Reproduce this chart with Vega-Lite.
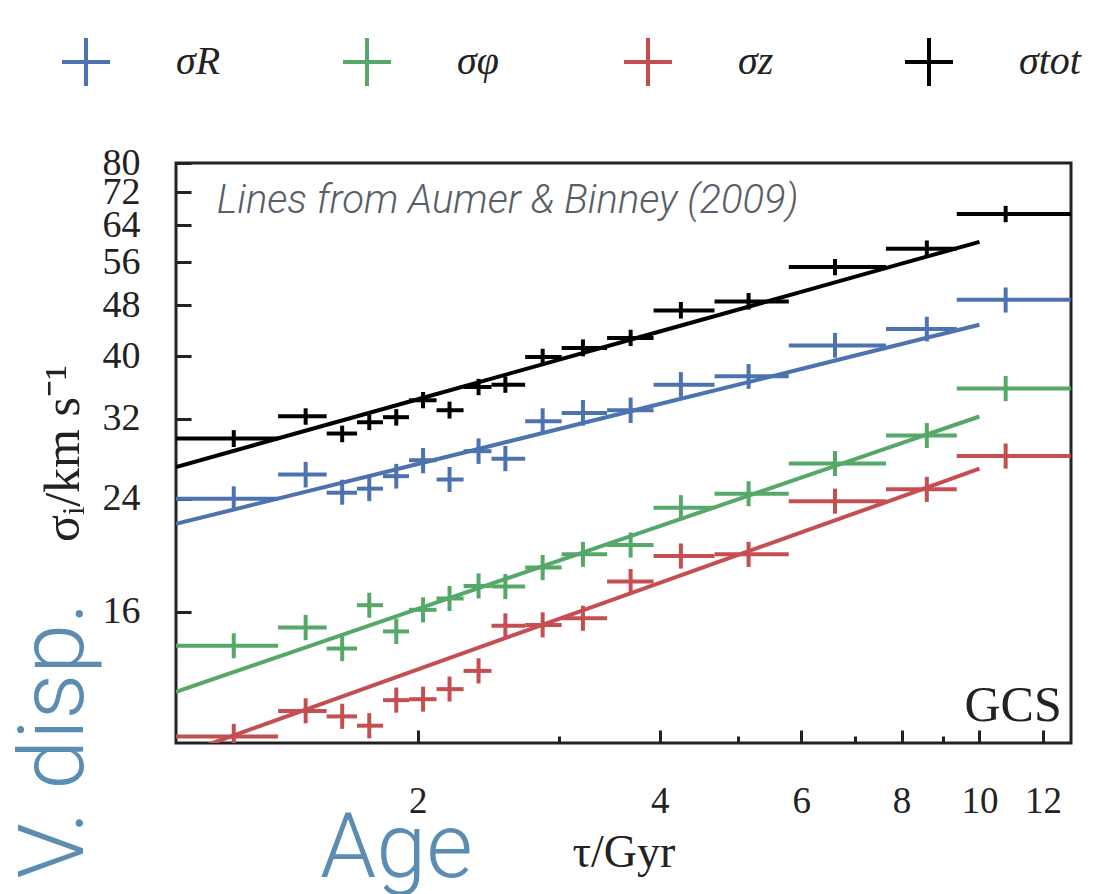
{
  "$schema": "https://vega.github.io/schema/vega-lite/v6.json",
  "width": 895,
  "height": 580,
  "autosize": {"type": "none"},
  "padding": {"left": 176, "top": 163, "right": 36, "bottom": 151},
  "background": "white",
  "config": {
    "view": {"stroke": "#222222", "strokeWidth": 3},
    "font": "Liberation Serif"
  },
  "datasets": {
    "fits": [
      {"s": "σR", "tau": 1, "v": 21.94}, {"s": "σR", "tau": 2, "v": 27.19}, {"s": "σR", "tau": 4, "v": 33.71}, {"s": "σR", "tau": 6, "v": 38.22}, {"s": "σR", "tau": 8, "v": 41.8}, {"s": "σR", "tau": 10, "v": 44.8},
      {"s": "σφ", "tau": 1, "v": 12.01}, {"s": "σφ", "tau": 2, "v": 16.17}, {"s": "σφ", "tau": 4, "v": 21.76}, {"s": "σφ", "tau": 6, "v": 25.89}, {"s": "σφ", "tau": 8, "v": 29.3}, {"s": "σφ", "tau": 10, "v": 32.24},
      {"s": "σz", "tau": 1, "v": 9.54}, {"s": "σz", "tau": 2, "v": 13.02}, {"s": "σz", "tau": 4, "v": 17.75}, {"s": "σz", "tau": 6, "v": 21.28}, {"s": "σz", "tau": 8, "v": 24.19}, {"s": "σz", "tau": 10, "v": 26.75},
      {"s": "σtot", "tau": 1, "v": 26.9}, {"s": "σtot", "tau": 2, "v": 34.29}, {"s": "σtot", "tau": 4, "v": 43.72}, {"s": "σtot", "tau": 6, "v": 50.4}, {"s": "σtot", "tau": 8, "v": 55.76}, {"s": "σtot", "tau": 10, "v": 60.3}
    ],
    "pts": [
      {"s": "σR", "lo": 1.0, "tau": 1.18, "hi": 1.34, "v": 24.01, "vlo": 23.0, "vhi": 25.1},
      {"s": "σR", "lo": 1.34, "tau": 1.45, "hi": 1.54, "v": 26.19, "vlo": 25.0, "vhi": 27.4},
      {"s": "σR", "lo": 1.54, "tau": 1.61, "hi": 1.68, "v": 24.53, "vlo": 23.5, "vhi": 25.7},
      {"s": "σR", "lo": 1.68, "tau": 1.74, "hi": 1.81, "v": 24.89, "vlo": 23.8, "vhi": 26.0},
      {"s": "σR", "lo": 1.81, "tau": 1.88, "hi": 1.95, "v": 26.03, "vlo": 24.9, "vhi": 27.2},
      {"s": "σR", "lo": 1.95, "tau": 2.03, "hi": 2.11, "v": 27.56, "vlo": 26.3, "vhi": 28.8},
      {"s": "σR", "lo": 2.11, "tau": 2.19, "hi": 2.28, "v": 25.72, "vlo": 24.6, "vhi": 26.9},
      {"s": "σR", "lo": 2.28, "tau": 2.38, "hi": 2.47, "v": 28.47, "vlo": 27.2, "vhi": 29.8},
      {"s": "σR", "lo": 2.47, "tau": 2.57, "hi": 2.72, "v": 27.7, "vlo": 26.5, "vhi": 29.0},
      {"s": "σR", "lo": 2.72, "tau": 2.86, "hi": 3.02, "v": 31.7, "vlo": 30.3, "vhi": 33.2},
      {"s": "σR", "lo": 3.02, "tau": 3.21, "hi": 3.44, "v": 32.66, "vlo": 31.2, "vhi": 34.2},
      {"s": "σR", "lo": 3.44, "tau": 3.68, "hi": 3.93, "v": 32.97, "vlo": 31.5, "vhi": 34.5},
      {"s": "σR", "lo": 3.93, "tau": 4.25, "hi": 4.68, "v": 36.14, "vlo": 34.6, "vhi": 37.8},
      {"s": "σR", "lo": 4.68, "tau": 5.16, "hi": 5.79, "v": 37.23, "vlo": 35.6, "vhi": 38.9},
      {"s": "σR", "lo": 5.79, "tau": 6.61, "hi": 7.65, "v": 41.6, "vlo": 39.8, "vhi": 43.5},
      {"s": "σR", "lo": 7.65, "tau": 8.6, "hi": 9.37, "v": 44.12, "vlo": 42.2, "vhi": 46.1},
      {"s": "σR", "lo": 9.37, "tau": 10.78, "hi": 13.0, "v": 48.98, "vlo": 46.8, "vhi": 51.2},
      {"s": "σφ", "lo": 1.0, "tau": 1.18, "hi": 1.34, "v": 14.17, "vlo": 13.55, "vhi": 14.82},
      {"s": "σφ", "lo": 1.34, "tau": 1.45, "hi": 1.54, "v": 15.13, "vlo": 14.46, "vhi": 15.83},
      {"s": "σφ", "lo": 1.54, "tau": 1.61, "hi": 1.68, "v": 14.03, "vlo": 13.41, "vhi": 14.68},
      {"s": "σφ", "lo": 1.68, "tau": 1.74, "hi": 1.81, "v": 16.39, "vlo": 15.67, "vhi": 17.14},
      {"s": "σφ", "lo": 1.81, "tau": 1.88, "hi": 1.95, "v": 14.92, "vlo": 14.26, "vhi": 15.61},
      {"s": "σφ", "lo": 1.95, "tau": 2.03, "hi": 2.11, "v": 16.12, "vlo": 15.41, "vhi": 16.86},
      {"s": "σφ", "lo": 2.11, "tau": 2.19, "hi": 2.28, "v": 16.79, "vlo": 16.05, "vhi": 17.56},
      {"s": "σφ", "lo": 2.28, "tau": 2.38, "hi": 2.47, "v": 17.56, "vlo": 16.79, "vhi": 18.37},
      {"s": "σφ", "lo": 2.47, "tau": 2.57, "hi": 2.72, "v": 17.52, "vlo": 16.75, "vhi": 18.33},
      {"s": "σφ", "lo": 2.72, "tau": 2.86, "hi": 3.02, "v": 18.76, "vlo": 17.93, "vhi": 19.62},
      {"s": "σφ", "lo": 3.02, "tau": 3.21, "hi": 3.44, "v": 19.67, "vlo": 18.8, "vhi": 20.57},
      {"s": "σφ", "lo": 3.44, "tau": 3.68, "hi": 3.93, "v": 20.33, "vlo": 19.44, "vhi": 21.27},
      {"s": "σφ", "lo": 3.93, "tau": 4.25, "hi": 4.68, "v": 23.25, "vlo": 22.23, "vhi": 24.32},
      {"s": "σφ", "lo": 4.68, "tau": 5.16, "hi": 5.79, "v": 24.44, "vlo": 23.37, "vhi": 25.56},
      {"s": "σφ", "lo": 5.79, "tau": 6.61, "hi": 7.65, "v": 27.24, "vlo": 26.04, "vhi": 28.49},
      {"s": "σφ", "lo": 7.65, "tau": 8.6, "hi": 9.37, "v": 30.11, "vlo": 28.79, "vhi": 31.49},
      {"s": "σφ", "lo": 9.37, "tau": 10.78, "hi": 13.0, "v": 35.63, "vlo": 34.06, "vhi": 37.27},
      {"s": "σz", "lo": 1.0, "tau": 1.18, "hi": 1.34, "v": 10.24, "vlo": 9.79, "vhi": 10.71},
      {"s": "σz", "lo": 1.34, "tau": 1.45, "hi": 1.54, "v": 11.22, "vlo": 10.73, "vhi": 11.74},
      {"s": "σz", "lo": 1.54, "tau": 1.61, "hi": 1.68, "v": 11.0, "vlo": 10.52, "vhi": 11.51},
      {"s": "σz", "lo": 1.68, "tau": 1.74, "hi": 1.81, "v": 10.64, "vlo": 10.17, "vhi": 11.13},
      {"s": "σz", "lo": 1.81, "tau": 1.88, "hi": 1.95, "v": 11.66, "vlo": 11.15, "vhi": 12.2},
      {"s": "σz", "lo": 1.95, "tau": 2.03, "hi": 2.11, "v": 11.7, "vlo": 11.19, "vhi": 12.24},
      {"s": "σz", "lo": 2.11, "tau": 2.19, "hi": 2.28, "v": 12.13, "vlo": 11.6, "vhi": 12.69},
      {"s": "σz", "lo": 2.28, "tau": 2.38, "hi": 2.47, "v": 12.95, "vlo": 12.38, "vhi": 13.55},
      {"s": "σz", "lo": 2.47, "tau": 2.57, "hi": 2.72, "v": 15.22, "vlo": 14.55, "vhi": 15.92},
      {"s": "σz", "lo": 2.72, "tau": 2.86, "hi": 3.02, "v": 15.27, "vlo": 14.6, "vhi": 15.97},
      {"s": "σz", "lo": 3.02, "tau": 3.21, "hi": 3.44, "v": 15.64, "vlo": 14.95, "vhi": 16.36},
      {"s": "σz", "lo": 3.44, "tau": 3.68, "hi": 3.93, "v": 17.84, "vlo": 17.06, "vhi": 18.66},
      {"s": "σz", "lo": 3.93, "tau": 4.25, "hi": 4.68, "v": 19.55, "vlo": 18.69, "vhi": 20.45},
      {"s": "σz", "lo": 4.68, "tau": 5.16, "hi": 5.79, "v": 19.67, "vlo": 18.8, "vhi": 20.57},
      {"s": "σz", "lo": 5.79, "tau": 6.61, "hi": 7.65, "v": 23.8, "vlo": 22.75, "vhi": 24.89},
      {"s": "σz", "lo": 7.65, "tau": 8.6, "hi": 9.37, "v": 24.83, "vlo": 23.74, "vhi": 25.97},
      {"s": "σz", "lo": 9.37, "tau": 10.78, "hi": 13.0, "v": 27.97, "vlo": 26.74, "vhi": 29.26},
      {"s": "σtot", "lo": 1.0, "tau": 1.18, "hi": 1.34, "v": 29.8, "vlo": 28.9, "vhi": 30.7},
      {"s": "σtot", "lo": 1.34, "tau": 1.45, "hi": 1.54, "v": 32.27, "vlo": 31.3, "vhi": 33.2},
      {"s": "σtot", "lo": 1.54, "tau": 1.61, "hi": 1.68, "v": 30.33, "vlo": 29.4, "vhi": 31.2},
      {"s": "σtot", "lo": 1.68, "tau": 1.74, "hi": 1.81, "v": 31.58, "vlo": 30.7, "vhi": 32.5},
      {"s": "σtot", "lo": 1.81, "tau": 1.88, "hi": 1.95, "v": 32.16, "vlo": 31.2, "vhi": 33.1},
      {"s": "σtot", "lo": 1.95, "tau": 2.03, "hi": 2.11, "v": 34.17, "vlo": 33.2, "vhi": 35.2},
      {"s": "σtot", "lo": 2.11, "tau": 2.19, "hi": 2.28, "v": 32.97, "vlo": 32.0, "vhi": 34.0},
      {"s": "σtot", "lo": 2.28, "tau": 2.38, "hi": 2.47, "v": 35.84, "vlo": 34.8, "vhi": 36.9},
      {"s": "σtot", "lo": 2.47, "tau": 2.57, "hi": 2.72, "v": 36.14, "vlo": 35.1, "vhi": 37.2},
      {"s": "σtot", "lo": 2.72, "tau": 2.86, "hi": 3.02, "v": 39.91, "vlo": 38.7, "vhi": 41.1},
      {"s": "σtot", "lo": 3.02, "tau": 3.21, "hi": 3.44, "v": 41.22, "vlo": 40.0, "vhi": 42.5},
      {"s": "σtot", "lo": 3.44, "tau": 3.68, "hi": 3.93, "v": 42.72, "vlo": 41.5, "vhi": 44.0},
      {"s": "σtot", "lo": 3.93, "tau": 4.25, "hi": 4.68, "v": 47.16, "vlo": 45.8, "vhi": 48.6},
      {"s": "σtot", "lo": 4.68, "tau": 5.16, "hi": 5.79, "v": 48.71, "vlo": 47.3, "vhi": 50.2},
      {"s": "σtot", "lo": 5.79, "tau": 6.61, "hi": 7.65, "v": 55.08, "vlo": 53.5, "vhi": 56.7},
      {"s": "σtot", "lo": 7.65, "tau": 8.6, "hi": 9.37, "v": 58.81, "vlo": 57.1, "vhi": 60.6},
      {"s": "σtot", "lo": 9.37, "tau": 10.78, "hi": 13.0, "v": 66.65, "vlo": 64.7, "vhi": 68.6}
    ]
  },
  "layer": [
    {
      "data": {"name": "fits"},
      "mark": {"type": "line", "strokeWidth": 4, "clip": true},
      "encoding": {
        "x": {
          "field": "tau", "type": "quantitative",
          "scale": {"type": "log", "domain": [1, 13], "nice": false, "zero": false},
          "axis": {
            "values": [2, 3, 4, 5, 6, 7, 8, 9, 10, 12],
            "labelExpr": "indexof([2,4,6,8,10,12], datum.value) >= 0 ? '' + datum.value : ''",
            "tickSize": {"condition": {"test": "indexof([3,5,7,9], datum.value) >= 0", "value": -7}, "value": -13},
            "tickWidth": 3, "tickColor": "#222222",
            "domain": false, "grid": false,
            "labelFont": "Liberation Serif", "labelFontSize": 37, "labelColor": "#222222",
            "labelPadding": 53,
            "title": "τ/Gyr", "titleFont": "Liberation Serif", "titleFontSize": 46,
            "titleFontWeight": "normal", "titleColor": "#222222", "titlePadding": 11
          }
        },
        "y": {
          "field": "v", "type": "quantitative",
          "scale": {"type": "log", "domain": [10, 80], "nice": false, "zero": false},
          "axis": {
            "values": [16, 24, 32, 40, 48, 56, 64, 72, 80],
            "format": "d",
            "tickSize": -15, "tickWidth": 3, "tickColor": "#222222",
            "domain": false, "grid": false,
            "labelFont": "Liberation Serif", "labelFontSize": 38, "labelColor": "#222222",
            "labelPadding": 51, "labelOverlap": false,
            "title": "σᵢ/km s⁻¹", "titleFont": "Liberation Serif", "titleFontSize": 50,
            "titleFontWeight": "normal", "titleColor": "#222222", "titlePadding": 14
          }
        },
        "color": {
          "field": "s", "type": "nominal",
          "scale": {"domain": ["σR", "σφ", "σz", "σtot"], "range": ["#4c72b0", "#55a868", "#c44e52", "#000000"]},
          "legend": {
            "title": null,
            "orient": "none", "legendX": -116, "legendY": -127,
            "direction": "horizontal", "columns": 4, "gridAlign": "all",
            "columnPadding": 97,
            "symbolType": "M-1,0H1M0,-1V1", "symbolSize": 2304, "symbolStrokeWidth": 4,
            "labelOffset": 64,
            "labelFont": "Liberation Serif", "labelFontSize": 40, "labelFontStyle": "italic",
            "labelColor": "#222222", "labelLimit": 300
          }
        }
      }
    },
    {
      "data": {"name": "pts"},
      "mark": {"type": "rule", "strokeWidth": 4, "clip": true},
      "encoding": {
        "x": {"field": "lo", "type": "quantitative"},
        "x2": {"field": "hi"},
        "y": {"field": "v", "type": "quantitative"},
        "color": {"field": "s", "type": "nominal"}
      }
    },
    {
      "data": {"name": "pts"},
      "mark": {"type": "rule", "strokeWidth": 4, "clip": true},
      "encoding": {
        "x": {"field": "tau", "type": "quantitative"},
        "y": {"field": "vlo", "type": "quantitative"},
        "y2": {"field": "vhi"},
        "color": {"field": "s", "type": "nominal"}
      }
    },
    {
      "data": {"values": [{"note": "Lines from Aumer & Binney  (2009)"}]},
      "mark": {"type": "text", "align": "left", "baseline": "alphabetic", "font": "Roboto", "fontWeight": 300, "fontStyle": "italic", "fontSize": 40, "color": "#575e66"},
      "encoding": {
        "x": {"datum": 1.124, "type": "quantitative"},
        "y": {"datum": 66.83, "type": "quantitative"},
        "text": {"field": "note"}
      }
    },
    {
      "data": {"values": [{"note": "GCS"}]},
      "mark": {"type": "text", "align": "right", "baseline": "alphabetic", "font": "Liberation Serif", "fontSize": 50, "color": "#222222"},
      "encoding": {
        "x": {"datum": 12.66, "type": "quantitative"},
        "y": {"datum": 10.82, "type": "quantitative"},
        "text": {"field": "note"}
      }
    },
    {
      "data": {"values": [{"note": "V. disp."}]},
      "mark": {"type": "text", "align": "left", "baseline": "alphabetic", "angle": 270, "font": "Roboto", "fontWeight": 300, "fontSize": 90, "color": "#5b8db2"},
      "encoding": {
        "x": {"datum": 0.766, "type": "quantitative"},
        "y": {"datum": 6.145, "type": "quantitative"},
        "text": {"field": "note"}
      }
    },
    {
      "data": {"values": [{"note": "Age"}]},
      "mark": {"type": "text", "align": "left", "baseline": "alphabetic", "font": "Roboto", "fontWeight": 300, "fontSize": 90, "color": "#5b8db2"},
      "encoding": {
        "x": {"datum": 1.511, "type": "quantitative"},
        "y": {"datum": 6.19, "type": "quantitative"},
        "text": {"field": "note"}
      }
    }
  ]
}
